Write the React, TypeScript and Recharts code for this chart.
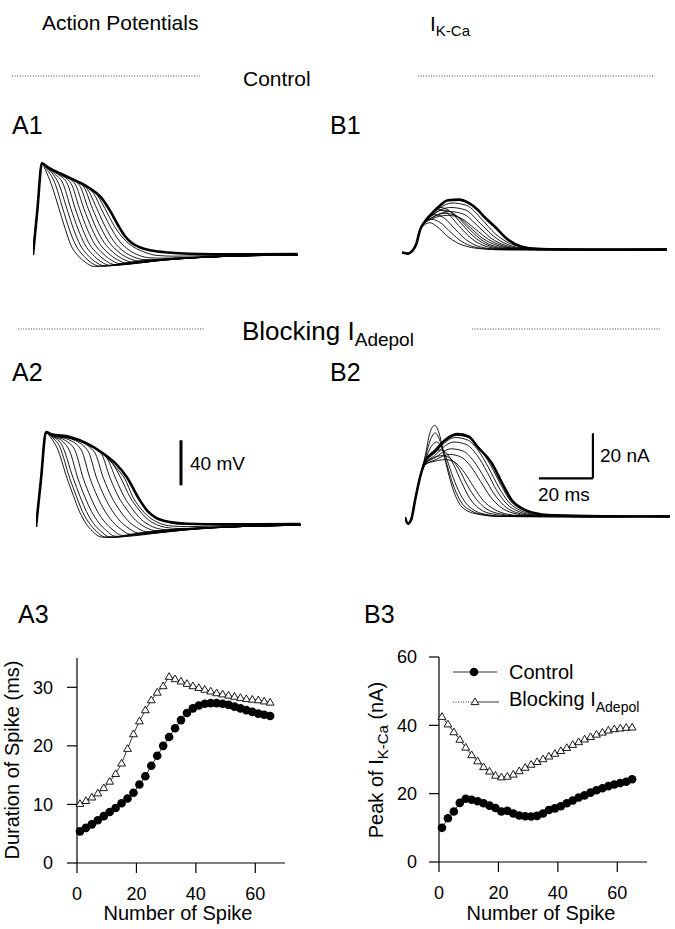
import React from 'react';
import { Line, LineChart, ReferenceLine, XAxis, YAxis } from 'recharts';

type Pt = [number, number];

const FONT = '"Liberation Sans", Arial, Helvetica, sans-serif';

// ---------- A1: action potentials, control (t ms, mV from rest) ----------
const apRise: Pt[] = [[0, -1], [1.6, 38], [3.3, 80]];
const apControl: Pt[][] = [
  [...apRise, [4.6, 74], [6.7, 62], [9.6, 40], [11.9, 22], [14.1, 7], [16.7, -2], [19.5, -8], [22.5, -11.5], [27, -11], [33, -8.8], [45, -5.5], [60, -3.5], [80, -2], [98, -1.5]],
  [...apRise, [5, 75], [8, 63], [11, 40], [13.5, 21], [15.8, 7.5], [18.5, -1.5], [21.5, -8], [24.5, -11.3], [29, -10.8], [35, -8.5], [46, -5.4], [61, -3.4], [80, -2], [98, -1.5]],
  [...apRise, [5.3, 75.5], [7.5, 70], [9.5, 62], [12.5, 40], [15.1, 21], [17.5, 7.5], [20.3, -1.5], [23.3, -7.8], [26.5, -11], [31, -10.5], [37, -8.3], [48, -5.3], [62, -3.4], [81, -2], [98, -1.4]],
  [...apRise, [5.4, 76], [8, 70.5], [11, 62.5], [14, 40], [16.7, 21.5], [19.2, 8], [22.1, -1], [25.2, -7.3], [28.5, -10.6], [33, -10.2], [39, -8], [50, -5.2], [63, -3.3], [82, -1.9], [98, -1.4]],
  [...apRise, [5.4, 76], [9, 70.5], [12.6, 62.5], [15.6, 40], [18.4, 21.5], [21, 8], [24, -0.5], [27.2, -6.8], [30.5, -10], [35, -9.7], [41, -7.7], [52, -5], [65, -3.2], [83, -1.9], [98, -1.3]],
  [...apRise, [5.5, 76], [10, 70], [14.1, 62], [17.2, 40], [20.1, 21.5], [22.8, 8.5], [25.9, 0], [29.2, -6.2], [32.6, -9.3], [37, -9.1], [43, -7.3], [54, -4.8], [67, -3], [84, -1.8], [98, -1.2]],
  [...apRise, [5.5, 76], [11, 69.5], [15.6, 61.5], [18.8, 40], [21.8, 22], [24.6, 9], [27.8, 0.5], [31.2, -5.5], [34.7, -8.5], [39, -8.4], [45, -6.8], [56, -4.5], [68, -2.9], [85, -1.7], [98, -1.2]],
  [...apRise, [5.5, 76], [12, 68.5], [17.1, 61], [20.4, 40], [23.5, 22], [26.4, 9.5], [29.7, 1], [33.2, -4.8], [36.8, -7.6], [41, -7.6], [47, -6.2], [58, -4.2], [70, -2.7], [86, -1.6], [98, -1.1]],
  [...apRise, [5.6, 76.2], [12.5, 68], [18.6, 59.8], [22, 40], [25.2, 22.5], [28.2, 10], [31.6, 1.5], [35.2, -4], [38.9, -6.6], [43, -6.7], [49, -5.6], [60, -3.9], [72, -2.5], [87, -1.5], [98, -1]],
  [...apRise, [5.6, 76.3], [13, 67.4], [20, 57.5], [23.6, 40], [26.9, 23], [30, 10.5], [33.5, 2], [37.2, -3], [41, -5.4], [45, -5.6], [51, -4.8], [62, -3.5], [74, -2.3], [88, -1.4], [98, -1]],
  [...apRise, [5.6, 76.4], [13, 67.5], [20.4, 58], [22.4, 53.5], [25.2, 40], [28.7, 23.5], [32, 11], [35.6, 3], [39.4, -1.8], [43, -3.8], [48, -4.2], [54, -3.8], [64, -2.9], [76, -2], [89, -1.2], [98, -0.9]],
  [...apRise, [5.6, 76.4], [13, 67.6], [20.4, 58.6], [24, 51], [26.6, 40], [30.2, 24], [33.6, 13], [37.4, 5.5], [41.5, 1], [46, -1.8], [52, -2.4], [60, -2.2], [72, -1.7], [86, -1.1], [98, -0.8]],
  [...apRise, [5.6, 76.4], [13, 67.6], [20.4, 58.7], [25.2, 49.8], [28.9, 36.4], [31.5, 25], [34, 15.5], [36.5, 9.5], [39.5, 5.5], [44, 2.6], [50, 0.8], [58, -0.3], [75, -0.8], [98, -0.5]],
];

// ---------- A2: action potentials, I_Adepol blocked ----------
const apRise2: Pt[] = [[0, -3], [1.8, 38], [3.7, 81]];
const apBlocked: Pt[][] = [
  [...apRise2, [5.2, 77], [8, 66], [11.5, 40], [13.8, 25], [16, 11], [18.5, 0], [21, -7], [24, -12], [28, -12.5], [34, -10], [45, -6.5], [60, -4], [80, -2.5], [98, -1.5]],
  [...apRise2, [5.4, 77.5], [8.8, 68], [12.5, 40], [14.9, 24.5], [17.2, 10.5], [19.8, 0], [22.4, -7], [25.5, -12], [29.5, -12.3], [35, -10], [46, -6.4], [61, -4], [80, -2.5], [98, -1.5]],
  [...apRise2, [5.5, 78], [9.5, 70], [13.8, 40], [16.3, 24], [18.7, 10.5], [21.3, 0], [24, -6.8], [27, -11.8], [31, -12], [36.5, -9.8], [47, -6.3], [62, -4], [81, -2.4], [98, -1.5]],
  [...apRise2, [5.5, 78], [10, 72.5], [12.5, 64], [15.5, 40], [18.1, 23.5], [20.6, 10.5], [23.3, 0.5], [26.1, -6.3], [29.2, -11.3], [33, -11.6], [38.5, -9.6], [49, -6.2], [63, -3.9], [82, -2.4], [98, -1.5]],
  [...apRise2, [5.6, 78.3], [11, 73.5], [14.5, 64.5], [17.5, 40], [20.2, 23.5], [22.8, 10.5], [25.6, 1], [28.5, -5.8], [31.7, -10.6], [35.5, -11], [41, -9.2], [51, -6], [64, -3.8], [83, -2.3], [98, -1.4]],
  [...apRise2, [5.6, 78.5], [12, 74.5], [16.8, 65], [20, 40], [22.8, 23.5], [25.5, 11], [28.4, 1.5], [31.4, -5], [34.7, -9.6], [38.5, -10.2], [44, -8.6], [54, -5.7], [66, -3.7], [84, -2.2], [98, -1.4]],
  [...apRise2, [5.6, 78.6], [13, 75], [19.2, 64.5], [22.5, 40], [25.4, 23.5], [28.2, 11.5], [31.2, 2], [34.3, -4.2], [37.7, -8.5], [41.5, -9.2], [47, -7.9], [56, -5.4], [68, -3.5], [85, -2.1], [98, -1.3]],
  [...apRise2, [5.6, 78.7], [13.5, 75.3], [21.6, 63.5], [25, 40], [28, 23.5], [30.9, 12], [34, 2.5], [37.2, -3.5], [40.7, -7.4], [44.5, -8.2], [50, -7.1], [58, -5.1], [70, -3.3], [86, -2], [98, -1.3]],
  [...apRise2, [5.6, 78.8], [14, 74.8], [24, 62.5], [27.5, 40], [30.6, 23.5], [33.6, 12.5], [36.8, 3], [40.1, -2.8], [43.7, -6.3], [47.5, -7.2], [53, -6.3], [61, -4.7], [72, -3.1], [87, -1.9], [98, -1.2]],
  [...apRise2, [5.6, 78.9], [14.5, 74.7], [24.5, 62.2], [26.5, 57], [29.5, 40], [32.7, 23.5], [35.8, 12.5], [39, 3.5], [42.4, -2], [46, -5], [50, -6], [56, -5.5], [64, -4.2], [75, -2.8], [88, -1.8], [98, -1.2]],
  [...apRise2, [5.6, 79], [14.5, 74.8], [24.7, 62], [28.5, 52.5], [31.5, 40], [34.8, 23.5], [38, 12.5], [41.2, 4], [44.6, -1], [48, -3.5], [53, -4.5], [60, -4], [70, -3], [84, -1.9], [98, -1.1]],
  [...apRise2, [5.6, 79], [12.6, 76.5], [24.9, 61.8], [30, 48.5], [32.8, 40], [36, 23], [39.2, 12], [42.5, 4.5], [46, 0], [50, -2.2], [56, -2.8], [64, -2.5], [76, -1.8], [90, -1.1], [98, -0.9]],
  [...apRise2, [5.6, 79.2], [12.6, 76.7], [24.9, 62], [29.5, 53], [33.6, 41.2], [38.5, 20.4], [41.5, 10.5], [44.5, 5], [49.6, 1.2], [56, -0.3], [70, -0.8], [98, -0.5]],
];

// ---------- B1: I_K-Ca, control (t ms, nA) ----------
const ikRise: Pt[] = [[0, -1.3], [2.2, -1.8], [3.8, -0.6], [5.3, 2.5], [6.6, 8.5]];
const ikControl: Pt[][] = [
  [...ikRise, [8.3, 11], [10.3, 12], [13, 10.2], [17, 5.8], [20.5, 3], [24.4, 1.3], [30, 0.3], [40, -0.2], [60, 0.1], [80, -0.2], [98, 0.1]],
  [...ikRise, [8.5, 11.8], [11, 13.5], [14, 12.2], [18.5, 7.2], [22, 3.7], [26.5, 1.3], [33, 0.2], [45, 0], [70, -0.2], [98, 0.2]],
  [...ikRise, [8.5, 12.2], [10, 14.3], [12.3, 15.6], [15.5, 14.2], [20, 8.7], [24, 4.2], [28.5, 1.4], [35, 0.2], [50, -0.1], [75, 0.2], [98, -0.1]],
  [...ikRise, [8.5, 12.4], [10.5, 15.5], [13.2, 18], [16.5, 16.6], [21, 10.7], [25.5, 5.2], [30, 1.9], [37, 0.3], [55, 0], [98, 0.3]],
  [...ikRise, [8.5, 12.5], [11, 16.2], [14, 18.8], [17.5, 17.4], [22, 11.6], [26.5, 5.9], [31, 2.3], [38, 0.4], [55, -0.2], [98, 0]],
  [...ikRise, [8.5, 12.4], [11, 15.2], [15, 17.6], [19, 16.2], [24, 10.3], [28.5, 5.2], [33, 2], [40, 0.5], [60, 0.1], [98, -0.3]],
  [...ikRise, [8.5, 12.2], [11, 14.2], [16, 16.2], [20.5, 14.8], [25.5, 9.6], [30, 4.9], [35, 2], [42, 0.5], [60, 0], [98, 0.2]],
  [...ikRise, [8.5, 12], [11, 13.7], [17, 15.3], [22, 13.9], [27, 9.3], [32, 4.6], [37, 1.8], [44, 0.4], [65, 0.2], [98, -0.2]],
  [...ikRise, [8.5, 12.2], [11, 14.2], [17.5, 17], [23, 15.7], [28, 10.6], [33, 5.1], [38, 2], [45, 0.5], [65, -0.1], [98, 0.1]],
  [...ikRise, [8.5, 12.4], [11, 15.2], [18, 18.8], [23.5, 17.7], [29, 11.7], [34, 5.9], [39, 2.3], [46, 0.6], [70, 0], [98, 0.3]],
  [...ikRise, [8.5, 12.5], [11, 15.6], [14, 18.6], [18.5, 20.8], [24, 19.7], [29.5, 13.6], [34.5, 7.1], [39.5, 3], [47, 0.8], [70, 0.1], [98, -0.2]],
  [...ikRise, [8.5, 12.6], [11, 16.1], [14, 19.6], [17, 22], [21, 22.3], [25, 20.6], [28, 17.8], [31, 14], [34.4, 10.2], [39.3, 4.4], [44.4, 1.3], [50, 0.3], [70, 0], [98, 0]],
];

// ---------- B2: I_K-Ca, I_Adepol blocked ----------
const ikRise2: Pt[] = [[0, -0.3], [1.1, -3.2], [2.4, -1], [3.7, 7], [5.6, 17.5]];
const ikBlocked: Pt[][] = [
  [...ikRise2, [7.5, 27], [9.2, 37], [11, 40.4], [12.6, 37], [14, 30], [15.5, 22], [17.5, 13], [20, 6], [23, 2.5], [28, 0.8], [35, 0], [60, 0.3], [98, -0.2]],
  [...ikRise2, [7.5, 26], [9.4, 34], [11.2, 37], [12.8, 34], [14.3, 28], [16, 21], [18.3, 12.5], [21, 6], [24.5, 2.5], [29, 0.8], [36, 0], [65, -0.3], [98, 0.2]],
  [...ikRise2, [7.5, 25], [9.7, 31], [11.7, 33], [13.5, 31], [15.3, 26], [17.3, 19], [19.8, 11.5], [22.5, 6], [26, 2.5], [31, 0.7], [38, 0], [70, 0.2], [98, 0]],
  [...ikRise2, [7.5, 24], [10, 28], [13, 29.5], [15.5, 28], [18, 23], [21, 15], [24, 8], [27.5, 3.5], [32, 1.2], [40, 0.2], [70, -0.2], [98, 0.3]],
  [...ikRise2, [7.5, 23.5], [10.5, 26], [14, 27], [17, 25.5], [20, 21], [23, 14], [26.5, 7.5], [30, 3.5], [35, 1.2], [42, 0.2], [70, 0.1], [98, -0.3]],
  [...ikRise2, [7.5, 23], [11, 24.5], [15, 25.2], [18.5, 24], [22, 19.5], [25.5, 13], [29, 7], [33, 3.2], [38, 1], [45, 0.2], [75, -0.1], [98, 0.1]],
  [...ikRise2, [7.5, 23], [11, 25], [16.5, 27.5], [20.5, 26.5], [24.5, 22], [28, 15.5], [31.5, 9], [35, 4.5], [40, 1.5], [47, 0.3], [75, 0.2], [98, -0.2]],
  [...ikRise2, [7.5, 23.2], [11, 26], [17, 30], [21.5, 29], [25.5, 24.5], [29.5, 17], [33, 10], [36.5, 5], [41, 1.8], [48, 0.4], [75, -0.2], [98, 0.2]],
  [...ikRise2, [7.5, 23.5], [11, 27], [14.5, 31], [18, 33], [22.5, 32], [26.5, 27.5], [30.5, 19.5], [34, 11.5], [37.5, 5.8], [42, 2.2], [49, 0.5], [80, 0], [98, 0.3]],
  [...ikRise2, [7.5, 24], [11, 28], [14.5, 32.5], [18.5, 35], [23, 34], [27, 29.5], [31, 21.5], [34.7, 13], [38.3, 6.5], [43, 2.5], [50, 0.6], [80, 0.2], [98, -0.2]],
  [...ikRise2, [7.5, 24], [11, 28.5], [15, 33.5], [19, 36], [23.5, 35], [27.5, 30.5], [31.8, 22.5], [35.5, 14], [39, 7], [43.5, 3], [51, 0.8], [80, -0.1], [98, 0.1]],
  [...ikRise2, [7.5, 24.5], [11, 29], [15, 34], [19.5, 36.5], [23.5, 35.5], [27, 30.7], [32.2, 23.5], [36, 14.7], [39.6, 7.1], [43.3, 3.6], [47, 1.8], [55, 0.5], [80, 0], [98, 0]],
];

// scale bars (data units of their panels)
const mvBar = { t: 53.7, from: 33.8, to: 73.8 }; // 40 mV
const naBar = { t0: 49.6, t1: 69.6, from: 16.9, to: 36.9 }; // 20 ms, 20 nA

// ---------- A3 / B3 summary ----------
const spikeNumber = [1, 3, 5, 7, 9, 11, 13, 15, 17, 19, 21, 23, 25, 27, 29, 31, 33, 35, 37, 39, 41, 43, 45, 47, 49, 51, 53, 55, 57, 59, 61, 63, 65];
const durControl = [5.4, 6.0, 6.6, 7.3, 8.0, 8.7, 9.4, 10.2, 11.0, 12.0, 13.4, 14.8, 16.6, 18.3, 20.0, 21.5, 23.0, 24.4, 25.6, 26.4, 26.9, 27.2, 27.3, 27.3, 27.2, 27.0, 26.7, 26.4, 26.1, 25.8, 25.5, 25.3, 25.1];
const durBlocked = [10.1, 10.6, 11.2, 11.9, 12.8, 13.9, 15.2, 17.0, 19.5, 22.0, 24.2, 26.1, 27.8, 29.1, 30.2, 31.8, 31.4, 31.0, 30.6, 30.2, 29.9, 29.6, 29.3, 29.0, 28.8, 28.6, 28.4, 28.2, 28.0, 27.9, 27.8, 27.6, 27.4];
const peakControl = [10.0, 12.8, 14.8, 17.3, 18.5, 18.2, 17.8, 17.2, 16.5, 15.8, 14.8, 15.0, 14.2, 13.6, 13.4, 13.3, 13.5, 14.2, 15.2, 15.7, 16.3, 17.2, 18.0, 18.9, 19.5, 20.3, 21.0, 21.6, 22.2, 22.7, 23.1, 23.5, 24.2];
const peakBlocked = [42.5, 40.3, 38.0, 35.8, 33.5, 31.3, 29.5, 27.8, 26.5, 25.3, 24.8, 25.0, 25.6, 26.6, 27.6, 28.5, 29.3, 30.1, 30.9, 31.7, 32.5, 33.4, 34.3, 35.1, 35.9, 36.6, 37.3, 37.9, 38.5, 38.9, 39.1, 39.3, 39.4];
const spikeTicks = [0, 20, 40, 60];

function TracePanel({ traces, left, top, height, yDomain, children }: any) {
  return (
    <div style={{ position: 'absolute', left, top }}>
      <LineChart width={270} height={height} margin={{ top: 0, right: 0, bottom: 0, left: 0 }}>
        <XAxis type="number" dataKey="t" domain={[0, 100]} hide allowDataOverflow />
        <YAxis type="number" domain={yDomain} hide allowDataOverflow />
        {traces.map((tr: Pt[], i: number) => (
          <Line
            key={i}
            data={tr.map(([t, v]) => ({ t, v }))}
            dataKey="v"
            type="monotone"
            stroke="#000"
            strokeWidth={i === traces.length - 1 ? 2.6 : 0.9}
            dot={false}
            isAnimationActive={false}
          />
        ))}
        {children}
      </LineChart>
    </div>
  );
}

const circleDot = (p: any) => <circle key={`c${p.index}`} cx={p.cx} cy={p.cy} r={4.3} fill="#000" />;
const triangleDot = (p: any) => (
  <path
    key={`t${p.index}`}
    d={`M${p.cx},${p.cy - 4.1}L${p.cx + 3.9},${p.cy + 2.6}L${p.cx - 3.9},${p.cy + 2.6}Z`}
    fill="#fff"
    stroke="#000"
    strokeWidth={0.9}
  />
);

function SummaryPlot({ left, top, marginLeft, marginTop, yDomain, yTicks, control, blocked, tickMargin }: any) {
  const rows = spikeNumber.map((n, i) => ({ n, control: control[i], blocked: blocked[i] }));
  const tick = { fontSize: 18, fill: '#000', fontFamily: FONT };
  return (
    <div style={{ position: 'absolute', left, top }}>
      <LineChart width={marginLeft + 60 + 208 + 25} height={marginTop + 205 + 57} data={rows} margin={{ top: marginTop, right: 25, left: marginLeft, bottom: 0 }}>
        <XAxis type="number" dataKey="n" domain={[0, 70]} ticks={spikeTicks} tickSize={10} tickMargin={14} height={57} tick={tick} stroke="#000" strokeWidth={1.2} />
        <YAxis type="number" domain={yDomain} ticks={yTicks} tickSize={10} tickMargin={tickMargin} width={60} tick={tick} stroke="#000" strokeWidth={1.2} />
        <Line dataKey="blocked" stroke="#000" strokeWidth={0.8} dot={triangleDot} isAnimationActive={false} />
        <Line dataKey="control" stroke="#000" strokeWidth={0.8} dot={circleDot} isAnimationActive={false} />
      </LineChart>
    </div>
  );
}

export default function App() {
  return (
    <div style={{ position: 'absolute', left: 0, top: 0, width: 675, height: 929, background: '#fff', fontFamily: FONT }}>
      <TracePanel traces={apControl} left={33} top={152} height={124} yDomain={[-20, 90]} />
      <TracePanel traces={ikControl} left={402} top={160} height={112} yDomain={[-10, 40]} />
      <TracePanel traces={apBlocked} left={36} top={422} height={124} yDomain={[-20, 90]}>
        <ReferenceLine segment={[{ x: mvBar.t, y: mvBar.from }, { x: mvBar.t, y: mvBar.to }]} stroke="#000" strokeWidth={3} ifOverflow="visible" />
      </TracePanel>
      <TracePanel traces={ikBlocked} left={405} top={415} height={124} yDomain={[-10, 45]}>
        <ReferenceLine segment={[{ x: naBar.t0, y: naBar.from }, { x: naBar.t1, y: naBar.from }]} stroke="#000" strokeWidth={2.2} ifOverflow="visible" />
        <ReferenceLine segment={[{ x: naBar.t1, y: naBar.from }, { x: naBar.t1, y: naBar.to }]} stroke="#000" strokeWidth={2.2} ifOverflow="visible" />
      </TracePanel>

      <SummaryPlot left={0} top={640} marginLeft={17} marginTop={18} yDomain={[0, 35]} yTicks={[0, 10, 20, 30]} control={durControl} blocked={durBlocked} tickMargin={14} />
      <SummaryPlot left={360} top={640} marginLeft={19} marginTop={17} yDomain={[0, 60]} yTicks={[0, 20, 40, 60]} control={peakControl} blocked={peakBlocked} tickMargin={12} />

      <svg width={675} height={929} style={{ position: 'absolute', left: 0, top: 0, pointerEvents: 'none' }} fontFamily={FONT} fill="#000">
        <text x={42} y={30} fontSize={21}>Action Potentials</text>
        <text x={430} y={31} fontSize={21}>I<tspan fontSize={15} dy={5}>K-Ca</tspan></text>

        <line x1={12} y1={76} x2={200} y2={76} stroke="#444" strokeDasharray="1 1.6" />
        <text x={243} y={86} fontSize={21}>Control</text>
        <line x1={418} y1={76} x2={655} y2={76} stroke="#444" strokeDasharray="1 1.6" />

        <text x={12} y={134} fontSize={25}>A1</text>
        <text x={330} y={134} fontSize={25}>B1</text>

        <line x1={18} y1={329} x2={205} y2={329} stroke="#444" strokeDasharray="1 1.6" />
        <text x={242} y={340} fontSize={26}>Blocking I<tspan fontSize={19} dy={6}>Adepol</tspan></text>
        <line x1={472} y1={329} x2={660} y2={329} stroke="#444" strokeDasharray="1 1.6" />

        <text x={12} y={381} fontSize={25}>A2</text>
        <text x={330} y={381} fontSize={25}>B2</text>

        <text x={190} y={470} fontSize={19}>40 mV</text>
        <text x={600} y={462} fontSize={19}>20 nA</text>
        <text x={538} y={501} fontSize={19}>20 ms</text>

        <text x={18} y={623} fontSize={25}>A3</text>
        <text x={364} y={623} fontSize={25}>B3</text>

        <text transform="translate(19,760) rotate(-90)" textAnchor="middle" fontSize={20}>Duration of Spike (ms)</text>
        <text x={178} y={920} textAnchor="middle" fontSize={20}>Number of Spike</text>

        <text transform="translate(383,760) rotate(-90)" textAnchor="middle" fontSize={20}>
          Peak of I<tspan fontSize={15} dy={5}>K-Ca</tspan><tspan dy={-5}> (nA)</tspan>
        </text>
        <text x={541} y={920} textAnchor="middle" fontSize={20}>Number of Spike</text>

        {/* B3 legend */}
        <line x1={453} y1={672} x2={497} y2={672} stroke="#000" strokeWidth={0.8} />
        <circle cx={474} cy={672} r={4.3} fill="#000" />
        <text x={509} y={679} fontSize={20}>Control</text>
        <line x1={453} y1={702} x2={472} y2={702} stroke="#000" strokeWidth={0.8} strokeDasharray="1 1.5" />
        <line x1={477} y1={702} x2={499} y2={702} stroke="#000" strokeWidth={0.8} />
        <path d="M475,697.9L478.9,704.6L471.1,704.6Z" fill="#fff" stroke="#000" strokeWidth={0.9} />
        <text x={509} y={706} fontSize={20}>Blocking I<tspan fontSize={14} dy={6}>Adepol</tspan></text>
      </svg>
    </div>
  );
}
